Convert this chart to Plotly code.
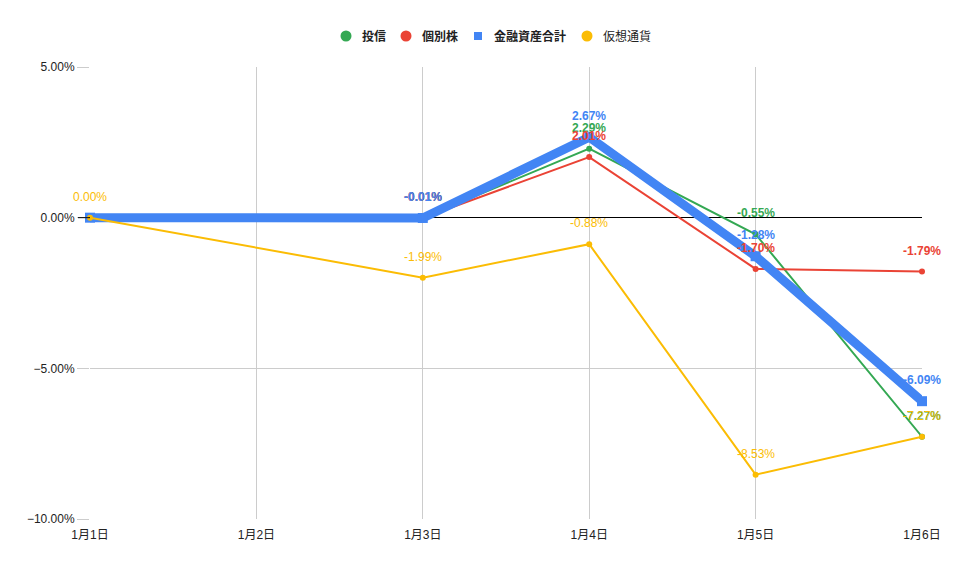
import plotly.graph_objects as go

# %% Data (values in %)
days = ['1月1日', '1月2日', '1月3日', '1月4日', '1月5日', '1月6日']
toushin = [0.00, None, -0.01, 2.29, -0.55, -7.27]
kobetsu = [0.00, None, -0.01, 2.01, -1.70, -1.79]
total = [0.00, None, -0.01, 2.67, -1.28, -6.09]
crypto = [0.00, None, -1.99, -0.88, -8.53, -7.27]

y_ticks = [5, 0, -5, -10]

# plot area in pixels (for placing the custom legend)
L, R, T, B = 90, 922, 67, 519


def px_x(p):
    return (p - L) / (R - L)


def px_y(p):
    return (B - p) / (B - T)


# name, values, colour, line width, marker, marker size, bold, label at 1月1日,
# legend symbol x, legend text x
series = [
    ('投信', toushin, '#34a853', 2, 'circle', 6, True, False, 346, 360),
    ('個別株', kobetsu, '#ea4335', 2, 'circle', 6, True, False, 406, 420),
    ('金融資産合計', total, '#4285f4', 9, 'square', 10, True, False, 478, 492),
    ('仮想通貨', crypto, '#fbbc04', 2, 'circle', 6, False, True, 587, 601),
]

fig = go.Figure()
annotations = []
shapes = []

for name, vals, color, lw, symbol, msize, bold, show_first, sx, tx in series:
    yv = [v / 100 if v is not None else None for v in vals]
    fig.add_trace(go.Scatter(
        x=days, y=yv, mode='lines+markers', connectgaps=True,
        line=dict(color=color, width=lw),
        marker=dict(color=color, size=msize, symbol=symbol),
        showlegend=False, hoverinfo='skip', cliponaxis=False
    ))
    # data labels
    for i, v in enumerate(vals):
        if v is None or (i == 0 and not show_first):
            continue
        txt = f'{v:.2f}%'
        annotations.append(dict(
            x=days[i], y=v / 100, xref='x', yref='y',
            text=f'<b>{txt}</b>' if bold else txt,
            showarrow=False, yshift=21,
            font=dict(color=color, size=12, family='Arial')
        ))
    # legend (symbol + text)
    half = 5.5 if symbol == 'circle' else 4
    shapes.append(dict(
        type='circle' if symbol == 'circle' else 'rect',
        xref='paper', yref='paper', xsizemode='pixel', ysizemode='pixel',
        xanchor=px_x(sx), yanchor=px_y(36),
        x0=-half, x1=half, y0=-half, y1=half,
        fillcolor=color, line=dict(width=0)
    ))
    annotations.append(dict(
        x=px_x(tx), y=px_y(36), xref='paper', yref='paper',
        xanchor='left', yanchor='middle', showarrow=False,
        text=f'<b>{name}</b>' if bold else name,
        font=dict(size=12, color='#222222', family='"Noto Sans CJK JP"')
    ))

# black tick at the zero line
shapes.append(dict(type='line', xref='paper', yref='y', x0=-12 / (R - L), x1=0, y0=0, y1=0,
                   line=dict(color='#000000', width=1), layer='above'))

fig.update_xaxes(
    showgrid=True, gridcolor='#cccccc', gridwidth=1,
    range=[0, 5], showline=False, zeroline=False,
    tickfont=dict(size=12, color='#222222', family='Arial, "Noto Sans CJK JP"'),
    ticks='', ticklabelstandoff=7, automargin=False
)
fig.update_yaxes(
    range=[-0.1, 0.05], tickvals=[t / 100 for t in y_ticks], tickformat='.2%',
    showgrid=True, gridcolor='#cccccc', gridwidth=1,
    zeroline=True, zerolinecolor='#000000', zerolinewidth=1,
    ticks='outside', ticklen=12, tickcolor='#cccccc',
    tickfont=dict(size=12, color='#222222', family='Arial'),
    showline=False, automargin=False
)

fig.update_layout(
    width=960, height=569,
    margin=dict(l=L, r=960 - R, t=T, b=569 - B),
    plot_bgcolor='white', paper_bgcolor='white',
    font=dict(family='Arial, "Noto Sans CJK JP"'),
    annotations=annotations,
    shapes=shapes,
    showlegend=False,
    hovermode=False
)

fig.write_html('out.html', config={'displayModeBar': False},
               post_script="document.body.style.margin='0';")
